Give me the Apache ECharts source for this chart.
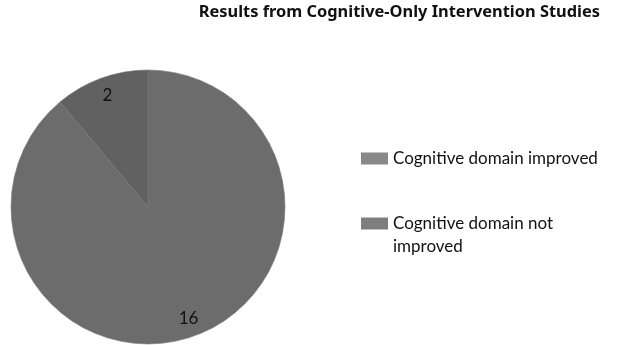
<!DOCTYPE html>
<html>
<head>
<meta charset="utf-8">
<script src="https://cdn.jsdelivr.net/npm/echarts@6/dist/echarts.min.js"></script>
<style>
  html, body { margin: 0; padding: 0; background: #fff; }
  #main { width: 621px; height: 345px; }
</style>
</head>
<body>
<div id="main"></div>
<script>
var categories = ['Cognitive domain improved', 'Cognitive domain not\nimproved'];
var studyCounts = [16, 2];
var sliceColors = ['#6c6c6c', '#616161'];
var legendColors = ['#898989', '#7e7e7e'];

var chartDom = document.getElementById('main');
var myChart = echarts.init(chartDom);

var pieData = categories.map(function (name, i) {
    return { name: name, value: studyCounts[i], itemStyle: { color: sliceColors[i] } };
});
var labelData = categories.map(function (name, i) {
    return { name: name, value: studyCounts[i] };
});

var option = {
    backgroundColor: '#fff',
    animation: false,
    textStyle: { fontFamily: 'Lato' },
    title: {
        text: 'Results from Cognitive-Only Intervention Studies',
        right: 21,
        top: 4,
        padding: 0,
        textStyle: { fontSize: 16.4, fontWeight: 'bold', color: '#111', fontFamily: 'Noto Sans' }
    },
    legend: {
        orient: 'vertical',
        left: 361,
        top: 147,
        padding: 0,
        itemWidth: 27,
        itemHeight: 12,
        itemGap: 19,
        icon: 'rect',
        selectedMode: false,
        itemStyle: { borderWidth: 0 },
        textStyle: { fontSize: 17, color: '#111', lineHeight: 23, fontFamily: 'Lato' },
        // blank first line keeps the swatch level with the first text line
        formatter: function (name) {
            return name.indexOf('\n') >= 0 ? '\n' + name : name;
        },
        data: [
            { name: categories[0], itemStyle: { color: legendColors[0], borderWidth: 0 } },
            { name: categories[1], itemStyle: { color: legendColors[1], borderWidth: 0 } }
        ]
    },
    series: [
        {
            type: 'pie',
            center: [148, 207],
            radius: 137,
            startAngle: 90,
            clockwise: true,
            label: { show: false },
            labelLine: { show: false },
            itemStyle: { borderColor: '#787878', borderWidth: 0.6 },
            emphasis: { disabled: true },
            data: pieData
        },
        {
            // transparent ring used only to place the value labels near the rim
            type: 'pie',
            center: [148, 207],
            radius: [94, 137],
            startAngle: 90,
            clockwise: true,
            silent: true,
            itemStyle: { color: 'rgba(0,0,0,0)' },
            label: {
                show: true,
                position: 'inside',
                formatter: '{c}',
                fontSize: 17,
                color: '#111',
                fontFamily: 'Lato'
            },
            labelLine: { show: false },
            emphasis: { disabled: true },
            data: labelData
        }
    ]
};

myChart.setOption(option);
</script>
</body>
</html>
